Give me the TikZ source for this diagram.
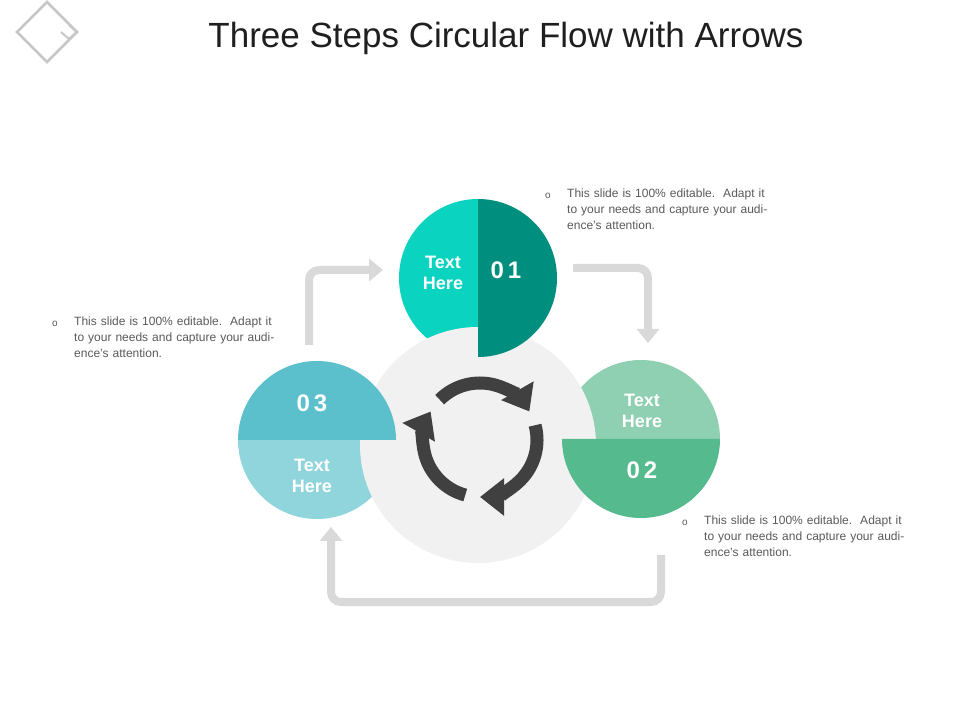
\documentclass[tikz,border=0pt]{standalone}
\usepackage{fontspec}
\setmainfont{Liberation Sans}
\usetikzlibrary{arrows.meta}
\definecolor{lt1}{HTML}{0AD3C0}
\definecolor{dk1}{HTML}{008E7F}
\definecolor{lt2}{HTML}{8ED0B1}
\definecolor{dk2}{HTML}{55BA8E}
\definecolor{dk3}{HTML}{5CBFCC}
\definecolor{lt3}{HTML}{90D4DC}
\definecolor{bg}{HTML}{F1F1F1}
\definecolor{conn}{HTML}{D9D9D9}
\definecolor{cyc}{HTML}{404040}
\definecolor{txt}{HTML}{595959}
\tikzset{
 connector/.style={draw=conn,line width=8pt,rounded corners=10pt,-{Triangle[length=14pt,width=22pt]}},
 cycarrow/.style={draw=cyc,line width=13pt,-{Triangle[length=24pt,width=36pt]}},
 lbl/.style={text=white,font=\bfseries\fontsize{18}{21}\selectfont,align=center},
 num/.style={text=white,font=\bfseries\fontsize{24}{26}\selectfont},
 body/.style={text=txt,font=\fontsize{12}{16}\selectfont,align=left,text width=215pt,anchor=north west,inner sep=0pt},
 bul/.style={text=txt,font=\fontsize{10}{12}\selectfont,inner sep=0pt},
 logo/.style={draw=black!22,line width=2.5pt}
}
\begin{document}
\begin{tikzpicture}[x=1pt,y=1pt]
\useasboundingbox (0,0) rectangle (960,720);
% logo
\draw[logo] (17,688)--(47,718)--(77,688)--(47,658)--cycle;
\draw[logo,line width=2pt] (69,695)--(77,688)--(69,681)--(61,688);
% title
\node (title) at (506,682) {\fontsize{35}{40}\selectfont\color{black!88}Three Steps Circular Flow with Arrows};
% back halves
\fill[lt1] (478,521) arc[start angle=90,end angle=270,radius=79] -- cycle;
\fill[lt2] (720,281) arc[start angle=0,end angle=180,radius=79] -- cycle;
\fill[lt3] (238,280) arc[start angle=180,end angle=360,radius=79] -- cycle;
% gray circle
\fill[bg] (478,275) circle[radius=118];
% front halves
\fill[dk1] (478,521) arc[start angle=90,end angle=-90,radius=79] -- cycle;
\fill[dk2] (720,281) arc[start angle=0,end angle=-180,radius=79] -- cycle;
\fill[dk3] (238,280) arc[start angle=180,end angle=0,radius=79] -- cycle;
% labels
\node[lbl] (t1) at (443,447) {Text\\Here};
\node[num] (n1) at (506,450) {0\,1};
\node[lbl] (t2) at (642,309) {Text\\Here};
\node[num] (n2) at (642,250) {0\,2};
\node[num] (n3) at (312,317) {0\,3};
\node[lbl] (t3) at (312,244) {Text\\Here};
% cycle arrows
\coordinate (cc) at (480,280);
\draw[cycarrow] ([shift={(135:57)}]cc) arc[start angle=135,end angle=30,radius=57];
\draw[cycarrow] ([shift={(15:57)}]cc) arc[start angle=15,end angle=-90,radius=57];
\draw[cycarrow] ([shift={(-105:57)}]cc) arc[start angle=-105,end angle=-210,radius=57];
% connectors
\coordinate (a1) at (309,375); \coordinate (a1t) at (383,450);
\draw[connector] (a1) |- (a1t);
\coordinate (a2) at (573,452); \coordinate (a2t) at (648,377);
\draw[connector] (a2) -| (a2t);
\coordinate (a3) at (661,165); \coordinate (a3t) at (331,193);
\draw[connector] (a3) -- (661,118) -| (a3t);
% text blocks
\node[bul] (b1) at (548,524) {o};
\node[body] (p1) at (567,531) {This slide is 100\% editable.\ \ Adapt it to your needs and capture your audience's attention.};
\node[bul] (b2) at (55,396) {o};
\node[body] (p2) at (74,403) {This slide is 100\% editable.\ \ Adapt it to your needs and capture your audience's attention.};
\node[bul] (b3) at (685,197) {o};
\node[body] (p3) at (704,204) {This slide is 100\% editable.\ \ Adapt it to your needs and capture your audience's attention.};
\end{tikzpicture}
\end{document}
